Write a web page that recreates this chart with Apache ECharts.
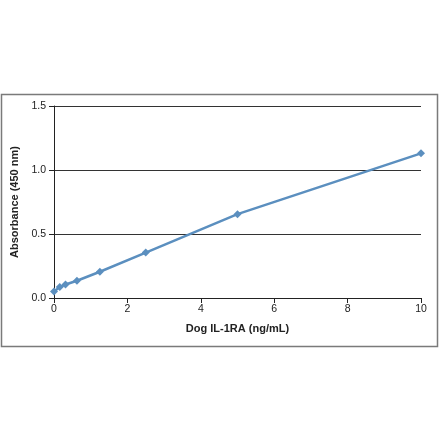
<!DOCTYPE html>
<html>
<head>
<meta charset="utf-8">
<script src="https://cdn.jsdelivr.net/npm/echarts@6/dist/echarts.min.js"></script>
<style>
  html, body { margin: 0; padding: 0; background: #fff; }
  #chart { width: 440px; height: 441px; }
</style>
</head>
<body>
<div id="chart"></div>
<script>
// standard curve: concentration (ng/mL) vs absorbance
const concentration = [0, 0.156, 0.313, 0.625, 1.25, 2.5, 5, 10]
const absorbance = [0.05, 0.085, 0.105, 0.135, 0.205, 0.355, 0.655, 1.13]
const xTicks = [0, 2, 4, 6, 8, 10]
const yTicks = [0, 0.5, 1.0, 1.5]

let myChart = echarts.init(document.getElementById('chart'))

let points = concentration.map((c, i) => [c, absorbance[i]])

let option = {
  animation: false,
  textStyle: { fontFamily: 'Liberation Sans' },
  graphic: [
    {
      type: 'rect',
      shape: { x: 1.5, y: 94.5, width: 436, height: 252 },
      style: { fill: 'none', stroke: '#7a7a7a', lineWidth: 1.5 }
    }
  ],
  grid: { left: 54, right: 19, top: 106, bottom: 143 },
  xAxis: {
    type: 'value',
    min: xTicks[0],
    max: xTicks[xTicks.length - 1],
    interval: 2,
    name: 'Dog IL-1RA (ng/mL)',
    nameLocation: 'middle',
    nameGap: 25,
    nameTextStyle: { fontSize: 11, fontWeight: 'bold', color: '#222' },
    axisLine: { show: true, lineStyle: { color: '#222', width: 1 } },
    axisTick: { show: true, length: 5, lineStyle: { color: '#222' } },
    axisLabel: { fontSize: 10.5, color: '#222', margin: 6 },
    splitLine: { show: false }
  },
  yAxis: {
    type: 'value',
    min: yTicks[0],
    max: yTicks[yTicks.length - 1],
    interval: 0.5,
    name: 'Absorbance (450 nm)',
    nameLocation: 'middle',
    nameGap: 31,
    nameTextStyle: { fontSize: 11, fontWeight: 'bold', color: '#222' },
    axisLine: { show: true, lineStyle: { color: '#222', width: 1 } },
    axisTick: { show: true, length: 5, lineStyle: { color: '#222' } },
    axisLabel: {
      fontSize: 10.5, color: '#222', margin: 8,
      formatter: v => v.toFixed(1)
    },
    splitLine: { show: true, lineStyle: { color: '#333', width: 1 } }
  },
  series: [
    {
      type: 'line',
      data: points,
      symbol: 'diamond',
      symbolSize: 8,
      lineStyle: { color: '#5b8fbf', width: 2.5 },
      itemStyle: { color: '#5b8fbf' }
    }
  ]
}
myChart.setOption(option)
</script>
</body>
</html>
